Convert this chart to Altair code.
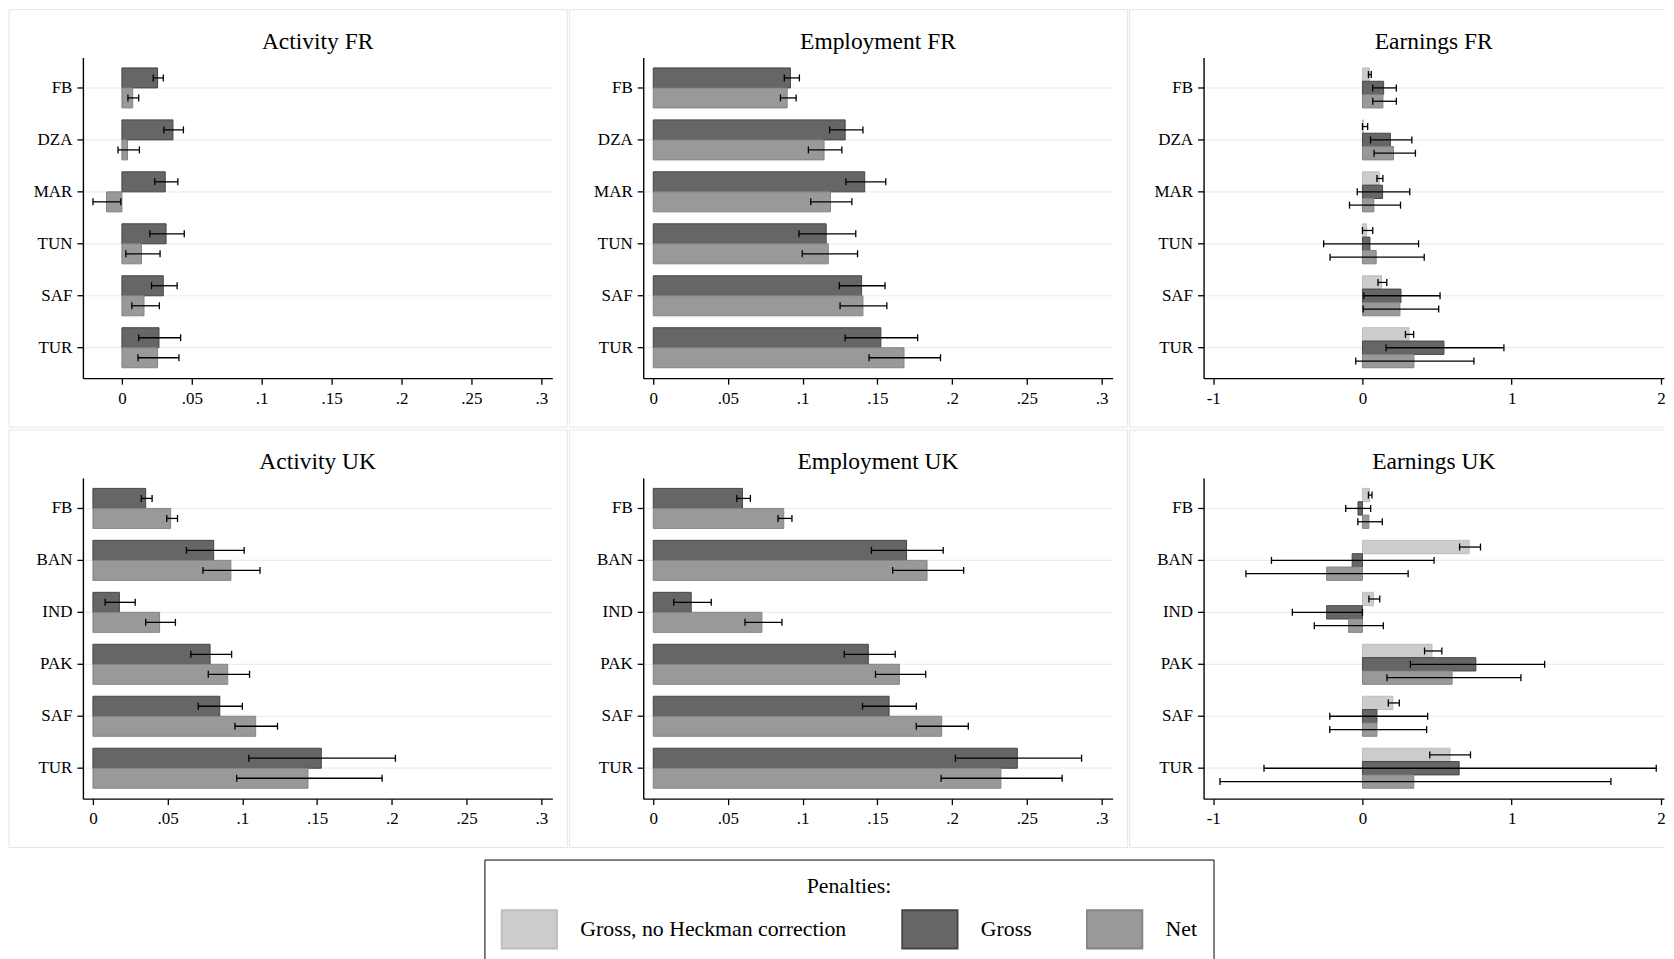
import altair as alt
import pandas as pd

# ---------------- data ----------------
CATS_FR = ["FB", "DZA", "MAR", "TUN", "SAF", "TUR"]
CATS_UK = ["FB", "BAN", "IND", "PAK", "SAF", "TUR"]
SERIES = ["Gross, no Heckman correction", "Gross", "Net"]
FILLS = ["#cccccc", "#666666", "#999999"]
STROKES = ["#bdbdbd", "#454545", "#848484"]

# Activity FR
act_fr_gross = [0.0255, 0.0365, 0.0310, 0.0316, 0.0296, 0.0265]
act_fr_gross_lo = [0.0224, 0.0300, 0.0235, 0.0200, 0.0212, 0.0120]
act_fr_gross_hi = [0.0296, 0.0440, 0.0400, 0.0446, 0.0395, 0.0420]
act_fr_net = [0.0077, 0.0040, -0.0110, 0.0140, 0.0158, 0.0255]
act_fr_net_lo = [0.0043, -0.0028, -0.0207, 0.0028, 0.0071, 0.0115]
act_fr_net_hi = [0.0120, 0.0125, -0.0008, 0.0273, 0.0268, 0.0408]

# Employment FR
emp_fr_gross = [0.0918, 0.1284, 0.1415, 0.1157, 0.1394, 0.1523]
emp_fr_gross_lo = [0.0877, 0.1180, 0.1289, 0.0975, 0.1245, 0.1284]
emp_fr_gross_hi = [0.0978, 0.1403, 0.1556, 0.1355, 0.1551, 0.1769]
emp_fr_net = [0.0896, 0.1143, 0.1186, 0.1171, 0.1403, 0.1678]
emp_fr_net_lo = [0.0851, 0.1038, 0.1054, 0.0997, 0.1250, 0.1444]
emp_fr_net_hi = [0.0956, 0.1262, 0.1329, 0.1367, 0.1563, 0.1922]

# Earnings FR
ear_fr_nohk = [0.047, 0.007, 0.113, 0.028, 0.128, 0.312]
ear_fr_nohk_lo = [0.040, 0.000, 0.097, 0.000, 0.104, 0.288]
ear_fr_nohk_hi = [0.059, 0.035, 0.137, 0.069, 0.163, 0.343]
ear_fr_gross = [0.142, 0.187, 0.135, 0.050, 0.258, 0.546]
ear_fr_gross_lo = [0.069, 0.054, -0.035, -0.260, 0.009, 0.158]
ear_fr_gross_hi = [0.227, 0.331, 0.317, 0.376, 0.520, 0.948]
ear_fr_net = [0.137, 0.208, 0.076, 0.092, 0.251, 0.345]
ear_fr_net_lo = [0.069, 0.078, -0.087, -0.217, 0.005, -0.045]
ear_fr_net_hi = [0.227, 0.355, 0.255, 0.414, 0.511, 0.747]

# Activity UK
act_uk_gross = [0.0353, 0.0808, 0.0177, 0.0784, 0.0849, 0.1528]
act_uk_gross_lo = [0.0324, 0.0626, 0.0082, 0.0655, 0.0705, 0.1043]
act_uk_gross_hi = [0.0396, 0.1012, 0.0283, 0.0928, 0.1000, 0.2024]
act_uk_net = [0.0520, 0.0923, 0.0446, 0.0902, 0.1089, 0.1439]
act_uk_net_lo = [0.0494, 0.0736, 0.0353, 0.0772, 0.0950, 0.0962]
act_uk_net_hi = [0.0566, 0.1118, 0.0552, 0.1048, 0.1235, 0.1935]

# Employment UK
emp_uk_gross = [0.0597, 0.1695, 0.0254, 0.1439, 0.1578, 0.2436]
emp_uk_gross_lo = [0.0559, 0.1460, 0.0137, 0.1278, 0.1400, 0.2022]
emp_uk_gross_hi = [0.0650, 0.1940, 0.0388, 0.1619, 0.1760, 0.2866]
emp_uk_net = [0.0873, 0.1832, 0.0727, 0.1647, 0.1930, 0.2326]
emp_uk_net_lo = [0.0835, 0.1602, 0.0614, 0.1487, 0.1760, 0.1926]
emp_uk_net_hi = [0.0928, 0.2077, 0.0861, 0.1823, 0.2108, 0.2736]

# Earnings UK
ear_uk_nohk = [0.0475, 0.715, 0.074, 0.466, 0.204, 0.587]
ear_uk_nohk_lo = [0.040, 0.651, 0.043, 0.416, 0.173, 0.451]
ear_uk_nohk_hi = [0.064, 0.791, 0.116, 0.532, 0.247, 0.724]
ear_uk_gross = [-0.030, -0.069, -0.240, 0.760, 0.097, 0.648]
ear_uk_gross_lo = [-0.112, -0.610, -0.470, 0.321, -0.219, -0.660]
ear_uk_gross_hi = [0.055, 0.480, 0.000, 1.221, 0.437, 1.969]
ear_uk_net = [0.043, -0.240, -0.093, 0.601, 0.097, 0.344]
ear_uk_net_lo = [-0.031, -0.781, -0.323, 0.164, -0.219, -0.955]
ear_uk_net_hi = [0.133, 0.306, 0.140, 1.062, 0.430, 1.665]

SHARE_TICKS = [0, 0.05, 0.1, 0.15, 0.2, 0.25, 0.3]
EARN_TICKS = [-1, 0, 1, 2]
SHARE_DOM_NEG = [-0.0279, 0.3079]
SHARE_DOM = [-0.0067, 0.3074]
EARN_DOM = [-1.065, 2.021]   # right panels are cut at the page edge

FONT = "Liberation Serif"
GRID = "#e6edf0"
FRAME = "#e0e8ec"


def long_df(cats, series):
    rows = []
    for name, (v, lo, hi) in series.items():
        for c, a, b, d in zip(cats, v, lo, hi):
            rows.append({"cat": c, "series": name, "val": a, "lo": b, "hi": d})
    return pd.DataFrame(rows)


LABEL_EXPR = (
    "datum.value == 0 ? '0' : (datum.value < 0 ? '-' + replace(format(-datum.value, '~g'), '0.', '.')"
    " : replace(format(datum.value, '~g'), '0.', '.'))"
)

LEGEND = alt.Legend(
    title="Penalties:",
    orient="none",
    legendX=402,
    legendY=803,
    direction="horizontal",
    columns=3,
    columnPadding=51,
    padding=16,
    strokeColor="black",
    titleAnchor="middle",
    titleFont=FONT,
    titleFontSize=21.8,
    titleFontWeight="normal",
    titleColor="black",
    titlePadding=3,
    labelFont=FONT,
    labelFontSize=21.8,
    labelColor="black",
    labelOffset=22,
    labelLimit=400,
    symbolType="M-1,-0.69H1V0.69H-1Z",
    symbolSize=3080,
    symbolStrokeWidth=1.8,
    symbolOpacity=1,
)


def one_row():
    return alt.Chart(pd.DataFrame({"k": [0]}))


def panel(title, cats, series, xdom, xticks, width=470, right_edge=True):
    df = long_df(cats, series)
    order = [s for s in SERIES if s in series]
    xscale = alt.Scale(domain=xdom, nice=False, zero=False)
    yscale = alt.Scale(domain=cats, paddingInner=0.23, paddingOuter=0.2)
    xaxis = alt.Axis(
        title=None, values=xticks, labelExpr=LABEL_EXPR, grid=False,
        tickSize=6, labelPadding=6,
    )
    yaxis = alt.Axis(title=None, grid=True, tickSize=6, labelPadding=5)
    yoff = alt.YOffset("series:N", scale=alt.Scale(domain=order, paddingInner=0, paddingOuter=0))
    ypos = alt.Y("cat:N", sort=cats, scale=yscale, axis=yaxis)
    base = alt.Chart(df)

    bars = base.mark_bar(strokeWidth=1, opacity=1).encode(
        x=alt.X("val:Q", scale=xscale, axis=xaxis),
        y=ypos,
        yOffset=yoff,
        color=alt.Color("series:N", scale=alt.Scale(domain=SERIES, range=FILLS), legend=LEGEND),
        stroke=alt.Stroke("series:N", scale=alt.Scale(domain=SERIES, range=STROKES), legend=LEGEND),
    )
    rule = base.mark_rule(color="black", strokeWidth=1.3).encode(
        x=alt.X("lo:Q", scale=xscale, axis=xaxis),
        x2="hi:Q",
        y=ypos,
        yOffset=yoff,
    )
    cap_lo = base.mark_tick(color="black", thickness=1.3, size=7, orient="vertical", opacity=1).encode(
        x=alt.X("lo:Q", scale=xscale, axis=xaxis),
        y=ypos,
        yOffset=yoff,
    )
    cap_hi = base.mark_tick(color="black", thickness=1.3, size=7, orient="vertical", opacity=1).encode(
        x=alt.X("hi:Q", scale=xscale, axis=xaxis),
        y=ypos,
        yOffset=yoff,
    )
    if right_edge:
        frames = [
            one_row().mark_rect(fill="transparent", stroke=FRAME, strokeWidth=1, clip=False).encode(
                x=alt.value(-74), x2=alt.value(485), y=alt.value(-48), y2=alt.value(370)
            )
        ]
    else:
        fr = dict(color=FRAME, strokeWidth=1, clip=False)
        frames = [
            one_row().mark_rule(**fr).encode(x=alt.value(-74), x2=alt.value(width), y=alt.value(-48)),
            one_row().mark_rule(**fr).encode(x=alt.value(-74), x2=alt.value(width), y=alt.value(370)),
            one_row().mark_rule(**fr).encode(x=alt.value(-74), y=alt.value(-48), y2=alt.value(370)),
        ]
    return alt.layer(*frames, bars, rule, cap_lo, cap_hi).properties(
        width=width, height=321, title=alt.TitleParams(title, frame="group", offset=-44)
    )


p1 = panel("Activity FR", CATS_FR,
           {"Gross": (act_fr_gross, act_fr_gross_lo, act_fr_gross_hi),
            "Net": (act_fr_net, act_fr_net_lo, act_fr_net_hi)},
           SHARE_DOM_NEG, SHARE_TICKS)
p2 = panel("Employment FR", CATS_FR,
           {"Gross": (emp_fr_gross, emp_fr_gross_lo, emp_fr_gross_hi),
            "Net": (emp_fr_net, emp_fr_net_lo, emp_fr_net_hi)},
           SHARE_DOM, SHARE_TICKS)
p3 = panel("Earnings FR", CATS_FR,
           {"Gross, no Heckman correction": (ear_fr_nohk, ear_fr_nohk_lo, ear_fr_nohk_hi),
            "Gross": (ear_fr_gross, ear_fr_gross_lo, ear_fr_gross_hi),
            "Net": (ear_fr_net, ear_fr_net_lo, ear_fr_net_hi)},
           EARN_DOM, EARN_TICKS, width=461, right_edge=False)
p4 = panel("Activity UK", CATS_UK,
           {"Gross": (act_uk_gross, act_uk_gross_lo, act_uk_gross_hi),
            "Net": (act_uk_net, act_uk_net_lo, act_uk_net_hi)},
           SHARE_DOM, SHARE_TICKS)
p5 = panel("Employment UK", CATS_UK,
           {"Gross": (emp_uk_gross, emp_uk_gross_lo, emp_uk_gross_hi),
            "Net": (emp_uk_net, emp_uk_net_lo, emp_uk_net_hi)},
           SHARE_DOM, SHARE_TICKS)
p6 = panel("Earnings UK", CATS_UK,
           {"Gross, no Heckman correction": (ear_uk_nohk, ear_uk_nohk_lo, ear_uk_nohk_hi),
            "Gross": (ear_uk_gross, ear_uk_gross_lo, ear_uk_gross_hi),
            "Net": (ear_uk_net, ear_uk_net_lo, ear_uk_net_hi)},
           EARN_DOM, EARN_TICKS, width=461, right_edge=False)

row1 = alt.hconcat(p1, p2, p3, spacing=0).resolve_scale(
    x="independent", y="independent", yOffset="independent")
row2 = alt.hconcat(p4, p5, p6, spacing=0).resolve_scale(
    x="independent", y="independent", yOffset="independent")

chart = (
    alt.vconcat(row1, row2, spacing=1)
    .resolve_scale(x="independent", y="independent", yOffset="independent")
    .properties(padding={"top": 0, "left": 0, "right": 0, "bottom": 0}, background="white")
    .configure_view(stroke="transparent")
    .configure_axis(
        labelFont=FONT,
        labelFontSize=17,
        labelColor="black",
        domainColor="black",
        domainWidth=1.4,
        tickColor="black",
        tickWidth=1.3,
        gridColor=GRID,
        gridWidth=1.2,
    )
    .configure_title(
        font=FONT,
        fontSize=23.5,
        fontWeight="normal",
        color="black",
        anchor="middle",
        baseline="alphabetic",
    )
)

chart.save("out.html", embed_options={"renderer": "svg", "actions": False})
